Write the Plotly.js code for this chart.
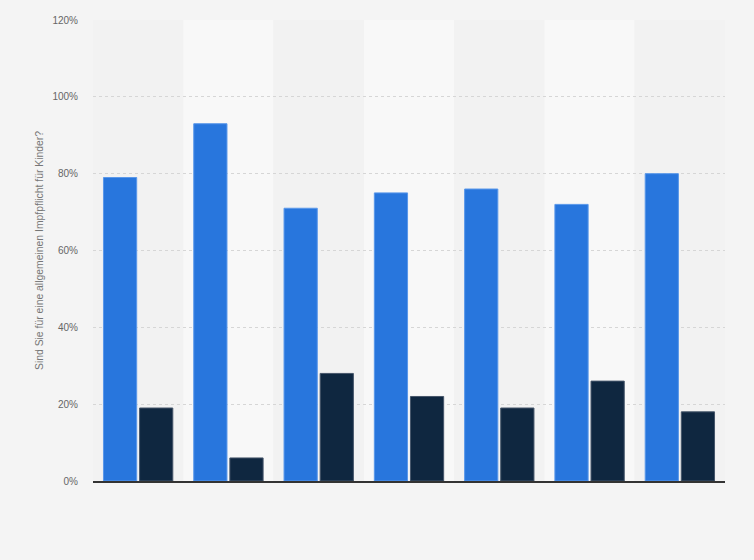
<!DOCTYPE html>
<html>
<head>
<meta charset="utf-8">
<script src="https://cdn.plot.ly/plotly-3.0.1.min.js"></script>
<style>
  html, body { margin: 0; padding: 0; background: #f4f4f4; }
  #chart { width: 754px; height: 560px; }
</style>
</head>
<body>
<div id="chart"></div>
<script type="text/javascript">

    /* * Data * */
    var categories = [0, 1, 2, 3, 4, 5, 6];
    var values_yes = [79, 93, 71, 75, 76, 72, 80];
    var values_no = [19, 6, 28, 22, 19, 26, 18];
    var y_ticks = [0, 20, 40, 60, 80, 100, 120];
    var y_tick_labels = ['0%', '20%', '40%', '60%', '80%', '100%', '120%'];

    var chart_container = document.getElementById('chart');

    /* * alternating column bands * */
    var shapes = [];
    for (var i = 0; i < categories.length; i++) {
        shapes.push({
            type: 'rect', xref: 'x', yref: 'paper', layer: 'below',
            x0: categories[i] - 0.5, x1: categories[i] + 0.5, y0: 0, y1: 1,
            fillcolor: (i % 2 == 1) ? '#f8f8f8' : '#f2f2f2',
            line: { width: 0 }
        });
    }

    var data = [{
        x: categories,
        y: values_yes,
        type: 'bar',
        name: 'Ja',
        marker: { color: '#2876dd', line: { color: '#5a98ea', width: 1 } },
        hoverinfo: 'y'
    }, {
        x: categories,
        y: values_no,
        type: 'bar',
        name: 'Nein',
        marker: { color: '#0f2740', line: { color: '#46566a', width: 1 } },
        hoverinfo: 'y'
    }];

    var layout = {
        width: 754,
        height: 560,
        paper_bgcolor: '#f4f4f4',
        plot_bgcolor: '#f2f2f2',
        margin: { l: 93, r: 29, t: 20, b: 79 },
        showlegend: false,
        barmode: 'group',
        bargap: 0.2,
        bargroupgap: 0.08,
        font: { family: '"Liberation Sans", Arial, sans-serif', color: '#666666', size: 10 },
        xaxis: {
            range: [-0.5, 6.5],
            showticklabels: false,
            showgrid: false,
            zeroline: false,
            showline: true,
            linecolor: '#333333',
            linewidth: 1.5,
            ticks: ''
        },
        yaxis: {
            range: [0, 120],
            tickvals: y_ticks,
            ticktext: y_tick_labels,
            showgrid: true,
            gridcolor: '#d6d6d6',
            griddash: 'dot',
            gridwidth: 1,
            zeroline: false,
            ticks: '',
            ticklabelstandoff: 14,
            tickfont: { size: 10, color: '#666666' },
            title: {
                text: 'Sind Sie für eine allgemeinen Impfpflicht für Kinder?',
                font: { size: 10.4, color: '#777777' },
                standoff: 6
            }
        },
        shapes: shapes
    };

    Plotly.newPlot(chart_container, data, layout, { displayModeBar: false, staticPlot: true });

</script>
</body>
</html>
